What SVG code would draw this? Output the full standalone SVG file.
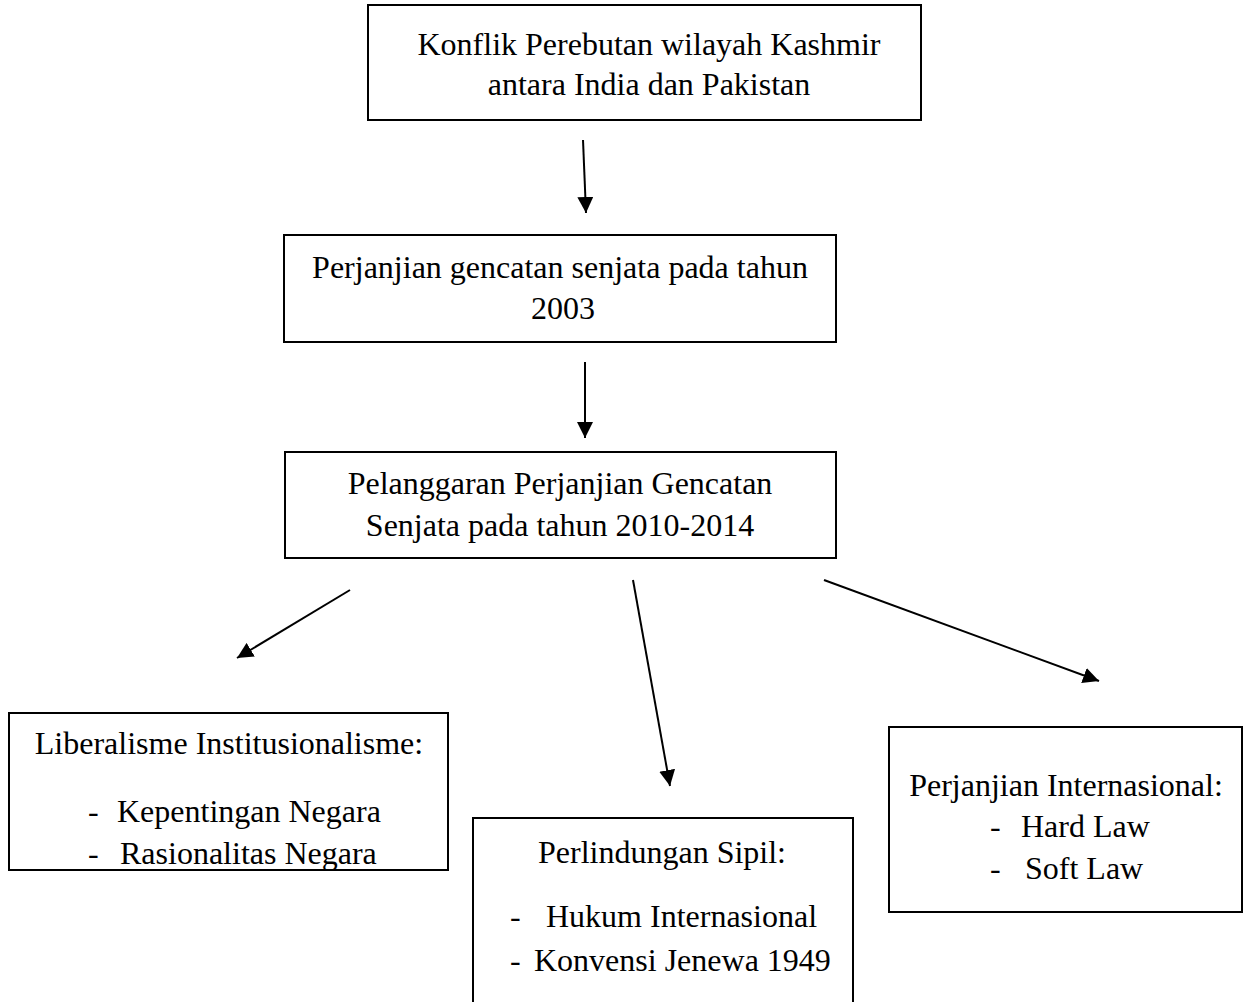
<svg xmlns="http://www.w3.org/2000/svg" width="1244" height="1002" viewBox="0 0 1244 1002">
<style>
.box{fill:#fff;stroke:#000;stroke-width:2}
.t{font-family:"Liberation Serif","Times New Roman",serif;font-size:32px;fill:#000}
.c{text-anchor:middle}
.con{stroke:#000;stroke-width:2;fill:none;marker-end:url(#ah)}
</style>
<defs>
<marker id="ah" viewBox="0 0 10 10" refX="10" refY="5" markerWidth="8" markerHeight="8" orient="auto" markerUnits="strokeWidth">
<path d="M0,0 L10,5 L0,10 z" fill="#000"/>
</marker>
</defs>
<rect width="1244" height="1002" fill="#fff"/>
<g id="connectors">
<line class="con" x1="583" y1="140" x2="586" y2="213"/>
<line class="con" x1="585" y1="362" x2="585" y2="438"/>
<line class="con" x1="350" y1="590" x2="237" y2="658"/>
<line class="con" x1="633" y1="580" x2="670" y2="786"/>
<line class="con" x1="824" y1="580" x2="1099" y2="681"/>
</g>
<g id="n1">
<rect class="box" x="368" y="5" width="553" height="115"/>
<text class="t c" x="649" y="55">Konflik Perebutan wilayah Kashmir</text>
<text class="t c" x="649" y="95">antara India dan Pakistan</text>
</g>
<g id="n2">
<rect class="box" x="284" y="235" width="552" height="107"/>
<text class="t c" x="560" y="278">Perjanjian gencatan senjata pada tahun</text>
<text class="t c" x="563" y="319">2003</text>
</g>
<g id="n3">
<rect class="box" x="285" y="452" width="551" height="106"/>
<text class="t c" x="560" y="494">Pelanggaran Perjanjian Gencatan</text>
<text class="t c" x="560" y="536">Senjata pada tahun 2010-2014</text>
</g>
<g id="n4">
<rect class="box" x="9" y="713" width="439" height="157"/>
<text class="t c" x="229" y="754">Liberalisme Institusionalisme:</text>
<text class="t" x="88" y="822">-</text>
<text class="t" x="117" y="822">Kepentingan Negara</text>
<text class="t" x="88" y="864">-</text>
<text class="t" x="120" y="864">Rasionalitas Negara</text>
</g>
<g id="n5">
<rect class="box" x="473" y="818" width="380" height="200"/>
<text class="t c" x="662" y="863">Perlindungan Sipil:</text>
<text class="t" x="510" y="927">-</text>
<text class="t" x="546" y="927">Hukum Internasional</text>
<text class="t" x="510" y="971">-</text>
<text class="t" x="534" y="971">Konvensi Jenewa 1949</text>
</g>
<g id="n6">
<rect class="box" x="889" y="727" width="353" height="185"/>
<text class="t c" x="1066" y="796">Perjanjian Internasional:</text>
<text class="t" x="990" y="837">-</text>
<text class="t" x="1021" y="837">Hard Law</text>
<text class="t" x="990" y="879">-</text>
<text class="t" x="1025" y="879">Soft Law</text>
</g>
</svg>
